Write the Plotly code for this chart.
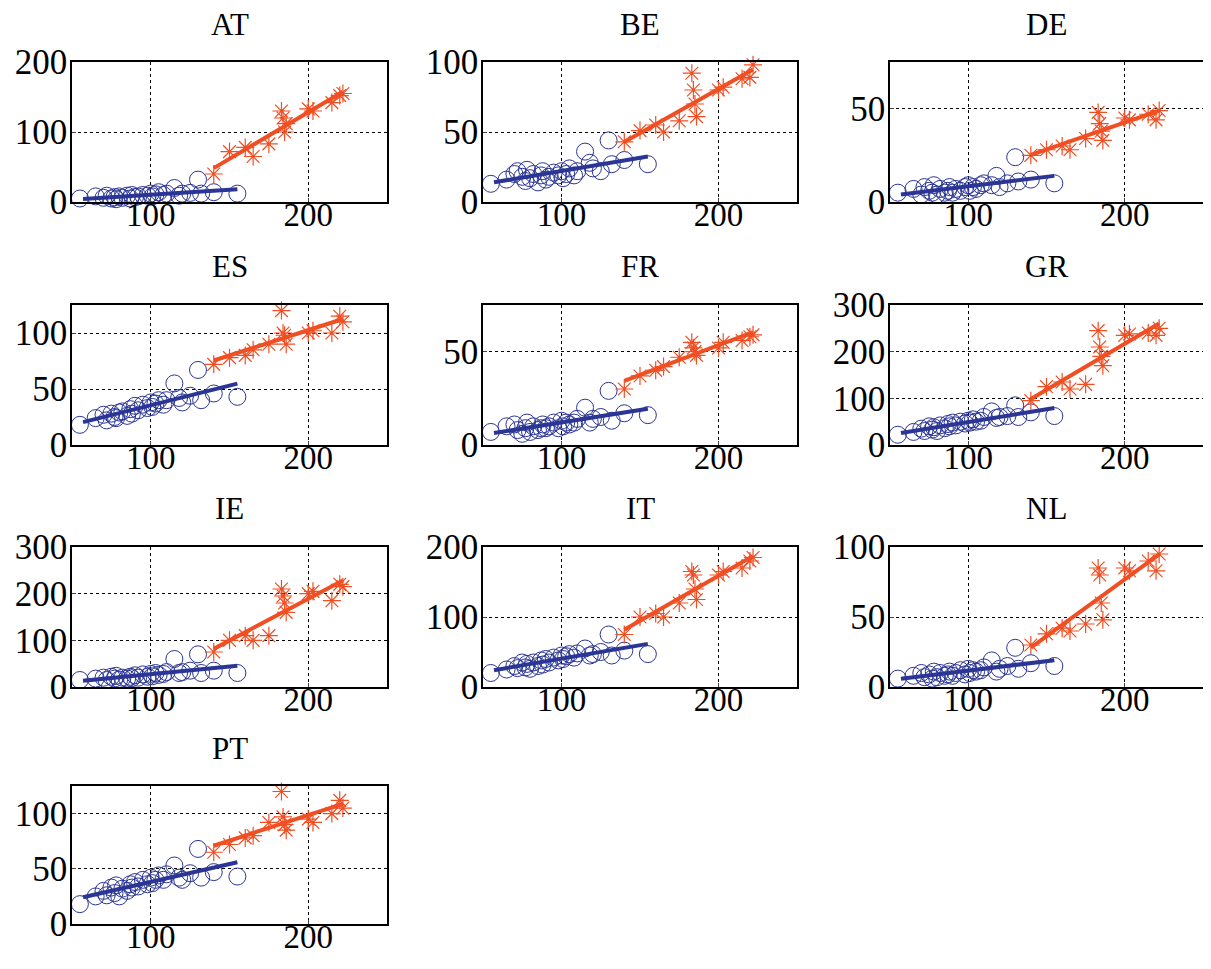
import numpy as np
import plotly.graph_objects as go

countries = ["AT","BE","DE","ES","FR","GR","IE","IT","NL","PT"]
x_c = [55,65,70,72,75,77,78,80,82,85,87,88,90,92,95,98,100,101,103,105,108,110,115,118,120,125,130,132,140,155]
x_s = [140,150,160,165,175,183,184,185,186,200,203,215,220,222]

y_c = {
 "AT":[5,8,6,9,5,7,4,8,6,9,5,10,7,8,10,9,12,8,11,14,10,12,20,9,12,13,32,12,14,12],
 "BE":[13,16,20,22,18,15,23,17,20,14,19,22,16,18,21,19,22,17,20,24,19,22,36,28,24,22,44,27,30,27],
 "DE":[5,7,4,8,6,5,9,4,7,5,6,8,5,7,6,8,9,6,8,7,9,10,9,14,8,10,24,11,12,10],
 "ES":[18,24,27,22,28,25,24,29,30,26,32,28,35,31,36,33,38,34,37,40,36,40,55,42,38,44,67,40,46,43],
 "FR":[7,10,11,8,6,9,12,7,10,8,9,11,9,10,12,9,13,10,12,11,12,14,20,12,14,15,29,13,17,16],
 "GR":[22,28,35,30,40,33,38,30,42,36,45,40,48,42,50,46,52,48,55,50,52,60,72,58,60,62,85,60,70,62],
 "IE":[15,18,20,15,22,18,24,16,20,18,22,19,25,20,27,22,28,23,30,26,28,32,60,30,32,35,70,30,35,30],
 "IT":[20,25,30,27,35,28,33,26,35,30,38,32,40,35,42,38,45,40,44,47,42,48,55,45,47,50,75,45,52,47],
 "NL":[6,8,10,7,9,6,11,7,10,8,9,11,8,10,12,9,13,10,12,11,12,14,19,11,13,15,28,13,17,15],
 "PT":[18,25,30,26,33,28,35,25,32,30,36,33,38,34,40,36,42,37,40,44,40,45,53,42,40,46,68,42,47,43],
}
y_s = {
 "AT":[40,72,78,65,83,130,120,100,112,133,130,142,152,155],
 "BE":[43,51,55,50,58,92,80,70,61,80,82,88,89,98],
 "DE":[25,28,30,28,34,48,42,38,33,45,44,47,44,49],
 "ES":[72,78,80,85,90,120,100,98,90,100,102,100,115,110],
 "FR":[30,37,40,42,47,55,52,50,48,52,55,56,58,59],
 "GR":[95,125,135,120,130,245,210,190,170,235,238,240,235,250],
 "IE":[75,100,110,100,110,210,195,180,160,200,205,185,220,215],
 "IT":[75,100,105,100,120,165,160,140,125,160,165,170,180,185],
 "NL":[30,38,42,40,45,85,80,60,48,85,83,90,83,95],
 "PT":[65,72,78,80,92,120,97,90,85,95,92,100,112,105],
}
y_max = {"AT":200,"BE":100,"DE":75,"ES":125,"FR":75,"GR":300,"IE":300,"IT":200,"NL":100,"PT":125}
y_ticks = {"AT":[0,100,200],"BE":[0,50,100],"DE":[0,50],"ES":[0,50,100],"FR":[0,50],
           "GR":[0,100,200,300],"IE":[0,100,200,300],"IT":[0,100,200],"NL":[0,50,100],"PT":[0,50,100]}

OFF = 8
W, H = 1211 - 2*OFF, 969 - 2*OFF
cols = [(72,387),(483,797),(890,1203)]
rows = [(62,202),(305,445),(547,687),(786,924)]
BLUE = "#2B3595"
RED = "#F04E23"
font = "Liberation Serif"

fig = go.Figure()
ann = []
for i, c in enumerate(countries):
    r, k = divmod(i, 3)
    n = i + 1
    xa = "x" if n == 1 else f"x{n}"
    ya = "y" if n == 1 else f"y{n}"
    fig.add_trace(go.Scatter(x=x_c, y=y_c[c], mode="markers", xaxis=xa, yaxis=ya, cliponaxis=False,
        marker=dict(symbol="circle-open", size=17, color=BLUE, line=dict(width=1.0, color=BLUE))))
    fig.add_trace(go.Scatter(x=x_s, y=y_s[c], mode="markers", xaxis=xa, yaxis=ya, cliponaxis=False,
        marker=dict(symbol="asterisk-open", size=15, color=RED, line=dict(width=1.2, color=RED))))
    pc = np.polyfit(x_c, y_c[c], 1)
    xl = [min(x_c)+2, max(x_c)]
    fig.add_trace(go.Scatter(x=xl, y=np.polyval(pc, xl), mode="lines", xaxis=xa, yaxis=ya,
        line=dict(color=BLUE, width=4)))
    ps = np.polyfit(x_s, y_s[c], 1)
    xl2 = [min(x_s), max(x_s)]
    fig.add_trace(go.Scatter(x=xl2, y=np.polyval(ps, xl2), mode="lines", xaxis=xa, yaxis=ya,
        line=dict(color=RED, width=4)))
    x0, x1 = cols[k]; t0, t1 = rows[r]
    x0 -= OFF; x1 -= OFF; t0 -= OFF; t1 -= OFF
    common = dict(showgrid=True, gridcolor="black", griddash="dot", gridwidth=1, showline=True,
                  linecolor="black", linewidth=1.5, mirror=True, ticks="inside", ticklen=4,
                  zeroline=False, automargin=False)
    ax = dict(domain=[x0/W, x1/W], range=[50,250], tickvals=[100,200], anchor=ya,
              ticklabelstandoff=-17, tickfont=dict(family=font, size=33, color="black"), **common)
    ay = dict(domain=[1-t1/H, 1-t0/H], range=[0,y_max[c]], tickvals=y_ticks[c], anchor=xa,
              ticklabelstandoff=-4, tickfont=dict(family=font, size=35, color="black"), **common)
    fig.layout["xaxis" if n == 1 else f"xaxis{n}"] = ax
    fig.layout["yaxis" if n == 1 else f"yaxis{n}"] = ay
    ann.append(dict(text=c, x=(x0+x1)/2/W, y=1-(t0-38)/H, xref="paper", yref="paper",
                    xanchor="center", yanchor="middle",
                    showarrow=False, font=dict(family=font, size=31, color="black")))

fig.update_layout(width=W, height=H, margin=dict(l=0,r=0,t=0,b=0, autoexpand=False), showlegend=False,
                  plot_bgcolor="white", paper_bgcolor="white", annotations=ann)
fig.write_html("out.html")
